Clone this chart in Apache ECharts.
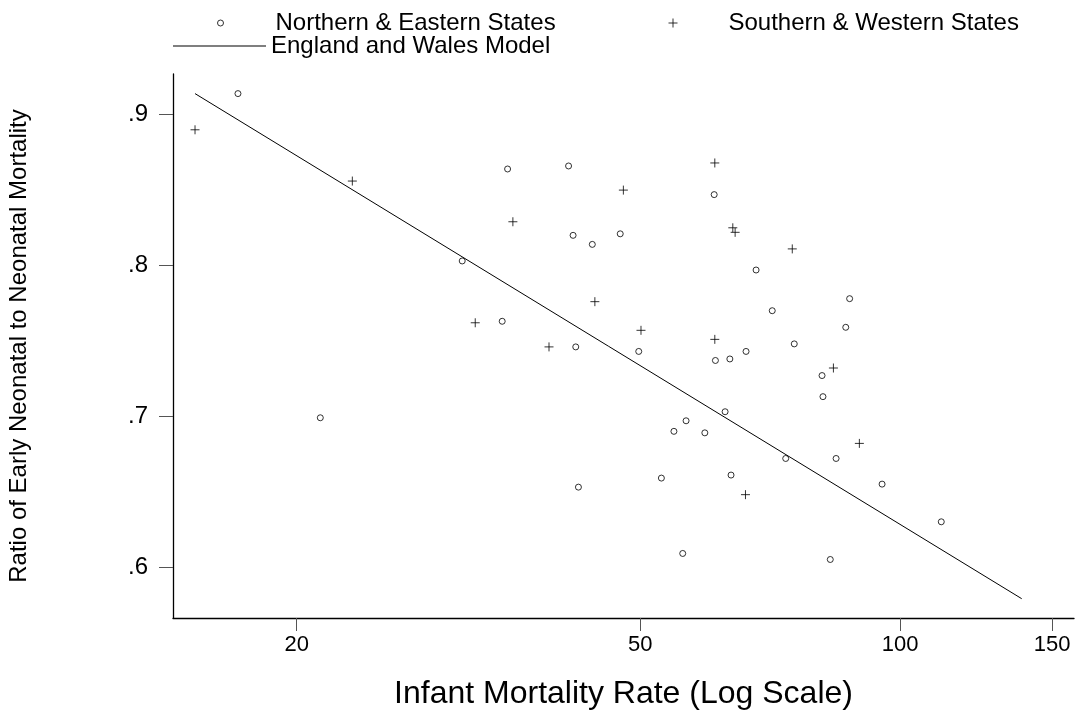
<!DOCTYPE html>
<html>
<head>
<meta charset="utf-8">
<title>Early neonatal ratio vs infant mortality</title>
<script src="https://cdn.jsdelivr.net/npm/echarts@6/dist/echarts.min.js"></script>
<style>
  html, body { margin: 0; padding: 0; background: #fff; }
  #chart { width: 1078px; height: 722px; }
</style>
</head>
<body>
<div id="chart"></div>
<script>
// infant mortality rate, ratio of early neonatal to neonatal mortality
var northEast = [
  [17.1, 0.914], [35.1, 0.864], [41.3, 0.866], [41.8, 0.820], [44.0, 0.814],
  [47.4, 0.821], [31.1, 0.803], [34.6, 0.763], [42.1, 0.746], [60.9, 0.847],
  [68.1, 0.797], [87.4, 0.778], [71.1, 0.770], [86.5, 0.759], [75.4, 0.748],
  [49.8, 0.743], [66.3, 0.743], [61.1, 0.737], [63.5, 0.738], [81.2, 0.727],
  [81.4, 0.713], [62.7, 0.703], [56.5, 0.697], [54.7, 0.690], [59.4, 0.689],
  [21.3, 0.699], [73.7, 0.672], [84.3, 0.672], [52.9, 0.659], [63.7, 0.661],
  [42.4, 0.653], [95.3, 0.655], [111.6, 0.630], [56.0, 0.609], [83.0, 0.605]
];
var southWest = [
  [15.25, 0.890], [23.2, 0.856], [35.6, 0.829], [47.8, 0.850], [44.3, 0.776],
  [32.2, 0.762], [39.2, 0.746], [61.0, 0.868], [64.0, 0.825], [64.4, 0.822],
  [75.0, 0.811], [50.1, 0.757], [61.0, 0.751], [83.7, 0.732], [89.7, 0.682],
  [66.2, 0.648]
];
var ewModel = [[15.25, 0.914], [138.3, 0.579]];

var xTicks = [20, 50, 100, 150];
var yTicks = [0.6, 0.7, 0.8, 0.9];

var font = 'Liberation Sans, Arial, sans-serif';
var plusPath = 'path://M0,4.5L9,4.5M4.5,0L4.5,9';
var legendText = { fontFamily: font, fontSize: 24, color: '#000', lineHeight: 26 };
var markStyle = { color: 'transparent', borderColor: '#000', borderWidth: 1 };

var chart = echarts.init(document.getElementById('chart'));
chart.setOption({
  backgroundColor: '#fff',
  animation: false,
  textStyle: { fontFamily: font, color: '#000' },
  legend: [
    {
      data: ['Northern & Eastern States'],
      left: 217, top: 10, padding: 0,
      itemWidth: 6, itemHeight: 6,
      itemStyle: markStyle,
      textStyle: Object.assign({ padding: [0, 0, 0, 47] }, legendText)
    },
    {
      data: ['Southern & Western States'],
      left: 668, top: 10, padding: 0,
      itemWidth: 9, itemHeight: 9,
      itemStyle: markStyle,
      textStyle: Object.assign({ padding: [0, 0, 0, 46] }, legendText)
    },
    {
      data: [{ name: 'England and Wales Model', icon: 'rect' }],
      left: 173, top: 33, padding: 0,
      itemWidth: 93, itemHeight: 1, symbolKeepAspect: false,
      itemStyle: { color: '#000', borderWidth: 0 },
      textStyle: Object.assign({ padding: [0, 0, 0, 0] }, legendText)
    }
  ],
  grid: { left: 173, right: 4, top: 74, bottom: 104, outerBoundsMode: 'none' },
  xAxis: {
    type: 'log',
    min: 14.38,
    max: 159,
    name: 'Infant Mortality Rate (Log Scale)',
    nameLocation: 'middle',
    nameGap: 60,
    nameTextStyle: { fontFamily: font, fontSize: 32, color: '#000' },
    axisLine: { lineStyle: { color: '#000', width: 1.3 } },
    axisTick: { length: 13, lineStyle: { color: '#555', width: 1 }, customValues: xTicks },
    axisLabel: { fontSize: 22, color: '#000', margin: 16, customValues: xTicks },
    splitLine: { show: false },
    minorTick: { show: false }
  },
  yAxis: {
    type: 'value',
    min: 0.5662,
    max: 0.927,
    name: 'Ratio of Early Neonatal to Neonatal Mortality',
    nameLocation: 'middle',
    nameRotate: 90,
    nameGap: 142,
    nameTextStyle: { fontFamily: font, fontSize: 24, color: '#000' },
    axisLine: { show: true, lineStyle: { color: '#000', width: 1.3 } },
    axisTick: { show: true, length: 14, lineStyle: { color: '#555', width: 1 }, customValues: yTicks },
    axisLabel: {
      fontSize: 24, color: '#000', margin: 25, customValues: yTicks,
      formatter: function (v) { return String(+v.toFixed(1)).replace(/^0/, ''); }
    },
    splitLine: { show: false }
  },
  series: [
    {
      name: 'Northern & Eastern States',
      type: 'scatter',
      data: northEast,
      symbol: 'circle',
      symbolSize: 6,
      itemStyle: markStyle
    },
    {
      name: 'Southern & Western States',
      type: 'scatter',
      data: southWest,
      symbol: plusPath,
      symbolSize: 9,
      itemStyle: markStyle
    },
    {
      name: 'England and Wales Model',
      type: 'line',
      data: ewModel,
      symbol: 'none',
      lineStyle: { color: '#000', width: 1 },
      itemStyle: { color: '#000' }
    }
  ]
});
</script>
</body>
</html>
